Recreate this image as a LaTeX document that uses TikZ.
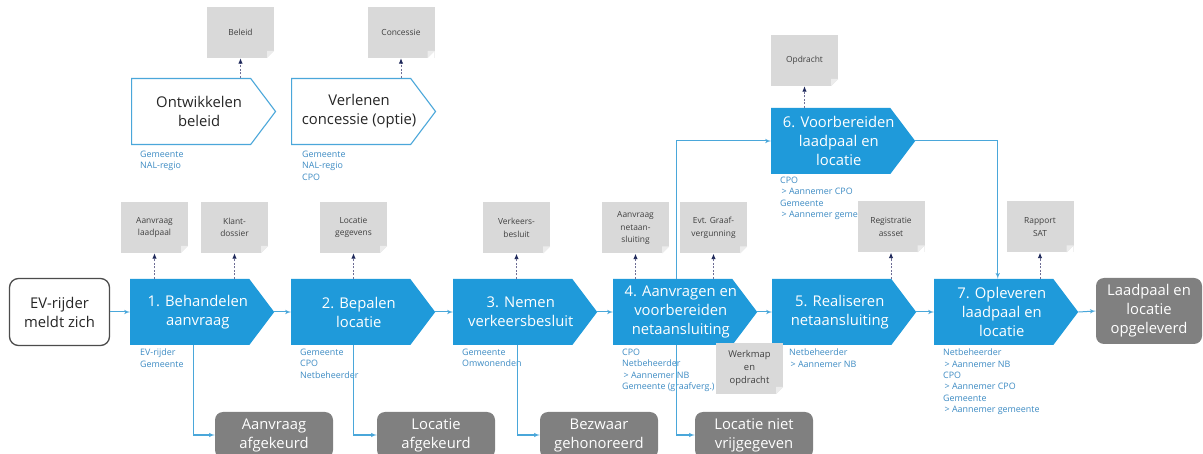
\documentclass[tikz,border=0pt]{standalone}
\usepackage{fontspec}
\setmainfont{Open Sans}
\usetikzlibrary{arrows,arrows.meta,shapes,positioning,calc}
\definecolor{stapblauw}{RGB}{31,154,218}
\definecolor{lijnblauw}{RGB}{74,167,218}
\definecolor{rolblauw}{RGB}{62,140,196}
\definecolor{docgrijs}{RGB}{217,217,217}
\definecolor{docvouw}{RGB}{236,236,236}
\definecolor{eindgrijs}{RGB}{128,128,128}
\definecolor{pijlnavy}{RGB}{30,40,90}
\definecolor{streepgrijs}{RGB}{110,110,150}
\newcommand{\stapfont}{\fontsize{14.8}{19}\selectfont}
\newcommand{\rolfont}{\fontsize{8.9}{11.3}\selectfont}
\newcommand{\docfont}{\fontsize{8.4}{12.5}\selectfont}

\begin{document}
\begin{tikzpicture}
[x=1pt,y=-1pt,
staptekst/.style={font=\stapfont,align=center,text=white,inner sep=0pt,xshift=8pt},
stap/.style={shape=signal,signal to=east,signal pointer angle=106,fill=stapblauw,
  minimum width=144,minimum height=66,inner sep=0pt,
  label={[staptekst]center:{#1}}},
beleidstap/.style={stap={#1},fill=white,draw=lijnblauw,line width=1.1pt,
  label={[staptekst,text=black!85]center:{#1}}},
ev/.style={rectangle,rounded corners=9pt,draw=black!70,line width=1.3pt,fill=white,
  minimum width=100,minimum height=67,font=\stapfont,align=center,text=black!85},
eind/.style={rectangle,rounded corners=8pt,fill=eindgrijs,text=white,font=\stapfont,
  align=center,inner sep=0pt,minimum width=118,minimum height=46},
doc/.style={rectangle,fill=docgrijs,minimum width=67,minimum height=51,inner sep=1pt,
  font=\docfont,text=black!75,align=center,
  path picture={
    \fill[white] ([xshift=-7pt]path picture bounding box.south east)
      -- (path picture bounding box.south east)
      -- ([yshift=7pt]path picture bounding box.south east) -- cycle;
    \fill[docvouw] ([xshift=-7pt]path picture bounding box.south east)
      -- ([yshift=7pt]path picture bounding box.south east)
      -- ([xshift=-7pt,yshift=7pt]path picture bounding box.south east) -- cycle;}},
rol/.style={anchor=north west,font=\rolfont,text=rolblauw,align=left,inner sep=0pt},
stroom/.style={lijnblauw,line width=1pt,>=latex'},
docpijl/.style={streepgrijs,line width=.9pt,dash pattern=on 2pt off 1.5pt,
  -{Latex[length=5.5pt,width=4.5pt,color=pijlnavy]}}]
\path[use as bounding box,fill=white] (0,0) rectangle (1203,454);
%%
% beleid en concessie
%%
\node[beleidstap={Ontwikkelen\\beleid},anchor=west] at (131,111.5) (B) {};
\node[beleidstap={Verlenen\\concessie (optie)},anchor=west] at (291,111.5) (C) {};
\node[rol] at (140,151) (rB) {Gemeente\\NAL-regio};
\node[rol] at (302,151) (rC) {Gemeente\\NAL-regio\\CPO};
\node[doc] at (240.5,32.5) (Beleid) {Beleid};
\node[doc] at (401,32.5) (Concessie) {Concessie};
\path
(B.north -| Beleid.south) edge[docpijl] (Beleid.south)
(C.north -| Concessie.south) edge[docpijl] (Concessie.south);
%%
% hoofdproces
%%
\node[ev] at (59.5,312) (EV) {EV-rijder\\meldt zich};
\node[stap={1. Behandelen\\aanvraag},anchor=west] at (130,312) (s1) {};
\node[stap={2. Bepalen\\locatie},anchor=west] at (291,312) (s2) {};
\node[stap={3. Nemen\\verkeersbesluit},anchor=west] at (453,312) (s3) {};
\node[stap={4. Aanvragen en\\voorbereiden\\netaansluiting},anchor=west] at (613,312) (s4) {};
\node[stap={5. Realiseren\\netaansluiting},anchor=west] at (772,312) (s5) {};
\node[stap={6. Voorbereiden\\laadpaal en\\locatie},anchor=west] at (771,141) (s6) {};
\node[stap={7. Opleveren\\laadpaal en\\locatie},anchor=west] at (934,312) (s7) {};
\node[eind,minimum width=106,minimum height=66] at (1149,311) (Klaar) {Laadpaal en\\locatie\\opgeleverd};
%%
\path
(EV.east) edge[stroom,->] (s1.west)
(s1.east) edge[stroom,->] (s2.west)
(s2.east) edge[stroom,->] (s3.west)
(s3.east) edge[stroom,->] (s4.west)
(s4.east) edge[stroom,->] (s5.west)
(s5.east) edge[stroom,->] (s7.west)
(s7.east) edge[stroom,->] (Klaar.west);
\draw[stroom,->] ([xshift=4pt]s4.north) |- (s6.west);
\draw[stroom,->] (s6.east) -| ([xshift=4pt]s7.north);
%%
% afgekeurd
%%
\node[eind] at (274,435) (Afk1) {Aanvraag\\afgekeurd};
\node[eind] at (436,435) (Afk2) {Locatie\\afgekeurd};
\node[eind] at (599,435) (Afk3) {Bezwaar\\gehonoreerd};
\node[eind] at (754,435) (Afk4) {Locatie niet\\vrijgegeven};
%%
% rollen
%%
\node[rol] at (140,349) (r1) {EV-rijder\\Gemeente};
\node[rol] at (300,349) (r2) {Gemeente\\CPO\\Netbeheerder};
\node[rol] at (462,349) (r3) {Gemeente\\Omwonenden};
\node[rol] at (622,349) (r4) {CPO\\Netbeheerder\\\,> Aannemer NB\\Gemeente (graafverg.)};
\node[rol] at (789,349) (r5) {Netbeheerder\\\,> Aannemer NB};
\node[rol] at (780,177) (r6) {CPO\\\,> Aannemer CPO\\Gemeente\\\,> Aannemer gemeente};
\node[rol] at (943,349) (r7) {Netbeheerder\\\,> Aannemer NB\\CPO\\\,> Aannemer CPO\\Gemeente\\\,> Aannemer gemeente};
%%
\draw[stroom,->] ([xshift=4pt]s1.south) |- (Afk1.west);
\draw[stroom,->] ([xshift=3pt]s2.south) |- (Afk2.west);
\draw[stroom,->] ([xshift=5pt]s3.south) |- (Afk3.west);
\draw[stroom,->] ([xshift=4pt]s4.south) |- (Afk4.west);
%%
% documenten
%%
\node[doc] at (804.5,60.5) (Opdracht) {Opdracht};
\node[doc] at (154.5,227.5) (Aanvraag) {Aanvraag\\laadpaal};
\node[doc] at (234.5,227.5) (Klant) {Klant-\\dossier};
\node[doc] at (353.5,227.5) (Locatie) {Locatie\\gegevens};
\node[doc] at (516.5,228) (Verkeer) {Verkeers-\\besluit};
\node[doc] at (635.5,228) (Netaan) {Aanvraag\\netaan-\\sluiting};
\node[doc] at (713.5,228) (Graaf) {Evt. Graaf-\\vergunning};
\node[doc] at (891,227) (Registratie) {Registratie\\assset};
\node[doc] at (1040,227) (Rapport) {Rapport\\SAT};
\node[doc,font=\fontsize{9.4}{13}\selectfont] at (749.5,368.5) (Werkmap) {Werkmap\\en\\opdracht};
%%
\path
(s6.north -| Opdracht.south) edge[docpijl] (Opdracht.south)
(s1.north -| Aanvraag.south) edge[docpijl] (Aanvraag.south)
(s1.north -| Klant.south) edge[docpijl] (Klant.south)
(s2.north -| Locatie.south) edge[docpijl] (Locatie.south)
(s3.north -| Verkeer.south) edge[docpijl] (Verkeer.south)
(s4.north -| Netaan.south) edge[docpijl] (Netaan.south)
(s4.north -| Graaf.south) edge[docpijl] (Graaf.south)
(s5.north -| Registratie.south) edge[docpijl] (Registratie.south)
(s7.north -| Rapport.south) edge[docpijl] (Rapport.south);
\end{tikzpicture}
\end{document}
